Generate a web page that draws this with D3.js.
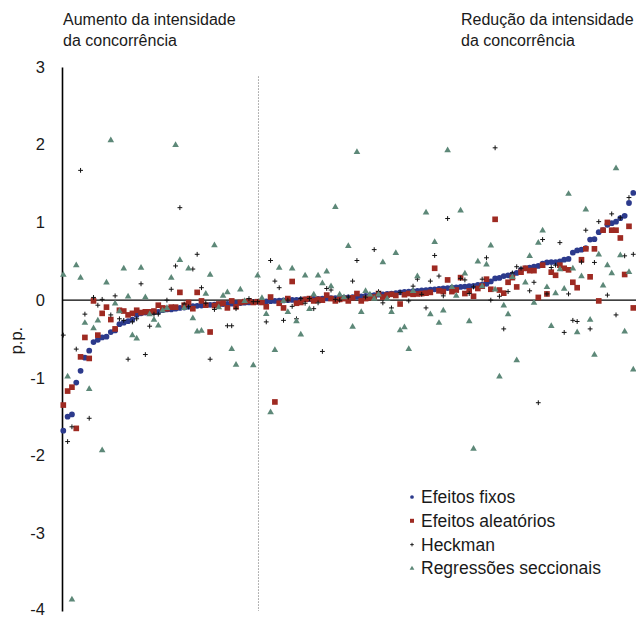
<!DOCTYPE html>
<html>
<head>
<meta charset="utf-8">
<script src="https://cdn.jsdelivr.net/npm/d3@7"></script>
<style>
  body { margin: 0; background: #fff; }
  svg { display: block; }
  text { font-family: "Liberation Sans", Arial, sans-serif; fill: #1a1a1a; }
</style>
</head>
<body>
<svg id="chart" width="636" height="617"></svg>
<script>
// Rank of each estimate, ordered by the fixed-effects value
const ranks = d3.range(1, 134);

// Estimated effect (p.p.) per rank, one array per estimator; null = not shown
const fixedEffects = [
  -1.68,-1.50,-1.47,-1.06,-0.91,-0.74,-0.65,-0.54,-0.51,-0.48,
  -0.47,-0.41,-0.39,-0.31,-0.29,-0.27,-0.25,-0.19,-0.17,-0.16,
  -0.16,-0.155,-0.15,-0.13,-0.12,-0.12,-0.11,-0.10,-0.095,-0.086,
  -0.077,-0.073,-0.069,-0.065,-0.06,-0.058,-0.055,-0.05,-0.048,-0.045,
  -0.04,-0.037,-0.033,-0.03,-0.027,-0.022,-0.02,-0.017,-0.013,-0.01,
  -0.007,-0.004,0.0,0.002,0.005,0.008,0.01,0.012,0.015,0.017,
  0.02,0.022,0.025,0.027,0.03,0.033,0.035,0.04,0.045,0.05,
  0.055,0.06,0.065,0.07,0.075,0.08,0.085,0.09,0.10,0.105,
  0.11,0.115,0.12,0.125,0.13,0.135,0.14,0.145,0.15,0.155,
  0.16,0.165,0.17,0.175,0.18,0.185,0.195,0.20,0.21,0.24,
  0.28,0.285,0.31,0.32,0.33,0.35,0.39,0.41,0.42,0.43,
  0.44,0.47,0.485,0.49,0.49,0.50,0.52,0.53,0.61,0.64,
  0.65,0.67,0.78,0.785,0.875,0.90,0.97,0.99,1.01,1.055,
  1.085,1.25,1.38
];

const randomEffects = [
  -1.35,-1.17,-1.12,-1.65,-0.73,-0.48,-0.75,-0.01,-0.45,-0.17,
  -0.09,-0.25,-0.37,-0.13,-0.14,-0.19,-0.17,-0.13,-0.16,-0.15,
  -0.15,-0.14,-0.065,-0.10,-0.11,-0.09,-0.09,0.10,-0.065,-0.03,
  -0.11,0.10,-0.01,-0.065,-0.41,-0.07,-0.05,-0.04,-0.10,-0.01,
  -0.085,-0.03,-0.02,-0.01,-0.03,-0.02,-0.03,-0.085,0.04,-1.31,
  -0.04,-0.10,0.02,0.24,-0.04,-0.03,0.01,0.02,-0.01,0.01,
  0.0,0.065,0.02,-0.01,0.01,0.02,-0.01,0.03,0.085,-0.01,
  0.02,0.03,0.04,0.085,0.04,0.065,0.075,0.06,-0.05,0.07,
  0.085,0.075,0.08,0.085,0.09,0.10,0.41,0.12,0.11,0.26,
  0.11,0.13,0.29,0.085,0.12,0.05,0.15,0.18,0.27,0.14,
  1.04,0.13,0.09,0.23,0.29,0.17,0.36,0.41,0.38,0.38,
  0.035,0.45,0.08,0.36,0.32,0.45,0.41,0.39,0.23,0.16,
  0.52,0.66,0.30,0.66,-0.01,0.90,1.00,0.90,0.90,0.80,
  0.33,0.95,-0.10
];

const heckman = [
  -0.45,-1.82,-1.63,-0.63,1.67,-0.18,-1.52,0.035,-0.065,0.01,
  null,-0.19,0.055,-0.24,-0.26,-0.76,-0.28,-0.24,0.21,-0.70,
  -0.335,-0.18,-0.18,null,0.0,0.14,0.44,1.19,-0.05,-0.085,
  0.40,0.59,0.16,-0.04,-0.76,-0.12,null,null,-0.33,-0.33,
  -0.11,null,null,0.02,-0.02,-0.02,null,-0.28,0.51,0.245,
  0.16,-0.26,0.0,-0.08,-0.24,0.02,-0.04,0.02,-0.11,-0.035,
  -0.66,0.15,0.13,0.01,0.0,null,0.04,0.245,0.51,null,
  0.04,null,0.65,0.11,-0.035,null,-0.10,null,0.10,null,
  -0.01,0.18,0.27,0.075,-0.10,0.245,0.575,0.31,0.055,1.05,
  null,null,0.28,0.26,0.085,0.17,null,0.27,0.545,0.0,
  1.96,0.05,-0.37,0.11,0.35,0.43,0.41,null,0.12,0.23,
  -1.32,0.78,0.08,0.42,0.45,0.74,-0.415,0.08,-0.26,-0.275,
  0.49,0.90,-0.37,0.485,1.01,null,0.065,1.11,-0.19,1.06,
  0.57,1.32,0.59
];

const crossSection = [
  0.32,-0.99,-3.86,0.44,0.28,-0.30,-1.15,-0.37,-0.27,-1.94,
  0.22,2.05,-0.05,-0.15,0.40,0.04,-0.46,-0.50,0.41,0.03,
  -0.19,-0.26,-0.335,-0.14,-0.11,0.28,1.99,0.51,-0.11,0.40,
  -0.24,-0.41,-0.40,0.075,0.32,0.70,-0.10,0.05,0.095,-0.635,
  -0.84,0.13,-0.02,null,-0.845,0.31,0.02,-0.185,-1.45,-0.65,
  0.41,-0.02,-0.16,0.40,-0.28,-0.45,0.31,-0.12,0.065,0.31,
  0.21,0.36,0.17,1.19,0.065,0.03,0.69,-0.35,1.90,-0.16,
  0.11,0.065,0.01,0.065,0.48,0.01,-0.16,0.60,-0.395,-0.355,
  -0.635,0.11,0.30,null,1.12,-0.19,0.74,-0.30,-0.14,1.92,
  0.16,0.05,1.145,0.335,-0.28,-1.92,0.49,0.17,0.45,0.695,
  0.13,-0.99,-0.075,-0.19,0.29,-0.78,null,0.22,0.56,-0.04,
  0.73,0.89,0.16,-0.34,0.08,0.39,0.14,1.36,0.40,-0.42,
  0.30,1.16,-0.26,-0.71,0.58,0.18,0.44,0.34,1.69,0.57,
  -0.41,0.355,-0.90
];

const seriesNames = ["Efeitos fixos", "Efeitos aleatórios", "Heckman", "Regressões seccionais"];
const yTicks = [3, 2, 1, 0, -1, -2, -3, -4];
const dividerRank = 46.2;   // boundary between the two regimes
const leftNote = ["Aumento da intensidade", "da concorrência"];
const rightNote = ["Redução da intensidade", "da concorrência"];
const yTitle = "p.p.";

// ---- layout ----
const svg = d3.select("#chart");
const plot = { left: 62, right: 636, top: 67, bottom: 611 };

const x = d3.scaleLinear().domain([1, 133]).range([63.3, 633.3]);
const y = d3.scaleLinear().domain([-4, 3]).range([plot.bottom, plot.top]);

const colors = {
  fixed: "#2c3a8c",
  random: "#9e2a22",
  heck: "#111111",
  cross: "#5d8878"
};

// dotted divider
svg.append("line")
  .attr("x1", x(dividerRank)).attr("x2", x(dividerRank))
  .attr("y1", y(2.88)).attr("y2", y(-4))
  .attr("stroke", "#9a9a9a").attr("stroke-width", 1)
  .attr("stroke-dasharray", "1.5,1.5");

// zero line
svg.append("line")
  .attr("x1", plot.left).attr("x2", plot.right)
  .attr("y1", y(0)).attr("y2", y(0))
  .attr("stroke", "#000").attr("stroke-width", 1.2);

// y axis (plain hyphen for negatives)
const yAxis = d3.axisLeft(y).tickValues(yTicks).tickSize(0).tickSizeOuter(0).tickPadding(17)
  .tickFormat(d => String(d));
const gy = svg.append("g").attr("transform", `translate(${plot.left},0)`).call(yAxis);
gy.select(".domain").attr("stroke", "#000").attr("stroke-width", 1.6);
gy.selectAll("text")
  .style("font-family", '"Liberation Sans", Arial, sans-serif')
  .style("font-size", "16.5px").attr("fill", "#1a1a1a");
// keep the lowest label inside the frame
gy.selectAll(".tick").filter(d => d === -4).select("text").attr("dy", "0.22em");

svg.append("text")
  .attr("transform", `translate(22,${y(-0.52)}) rotate(-90)`)
  .attr("text-anchor", "middle")
  .style("font-size", "16.5px")
  .text(yTitle);

// notes
function note(lines, x0) {
  const t = svg.append("text").attr("x", x0).attr("y", 25).style("font-size", "16px");
  lines.forEach((s, i) => t.append("tspan").attr("x", x0).attr("dy", i ? 21 : 0).text(s));
}
note(leftNote, 63);
note(rightNote, 461);

// points
const rows = ranks.map((r, i) => ({
  r, fe: fixedEffects[i], re: randomEffects[i], hk: heckman[i], cs: crossSection[i]
}));

const circleSym = d3.symbol().type(d3.symbolCircle).size(26);
const squareSym = d3.symbol().type(d3.symbolSquare).size(32);
const triSym = d3.symbol().type(d3.symbolTriangle).size(19);
const plusPath = "M-2.4,0H2.4M0,-2.4V2.4";

svg.append("g").selectAll("path").data(rows.filter(d => d.fe != null)).join("path")
  .attr("d", circleSym)
  .attr("transform", d => `translate(${x(d.r)},${y(d.fe)})`)
  .attr("fill", colors.fixed);

svg.append("g").selectAll("path").data(rows.filter(d => d.re != null)).join("path")
  .attr("d", squareSym)
  .attr("transform", d => `translate(${x(d.r)},${y(d.re)})`)
  .attr("fill", colors.random);

svg.append("g").selectAll("path").data(rows.filter(d => d.hk != null)).join("path")
  .attr("d", plusPath)
  .attr("transform", d => `translate(${x(d.r)},${y(d.hk)})`)
  .attr("stroke", colors.heck).attr("stroke-width", 1).attr("fill", "none");

svg.append("g").selectAll("path").data(rows.filter(d => d.cs != null)).join("path")
  .attr("d", triSym)
  .attr("transform", d => `translate(${x(d.r)},${y(d.cs) - 0.5})`)
  .attr("fill", colors.cross);

// legend
const legend = svg.append("g").attr("transform", "translate(412,497)");
const legendSyms = [
  g => g.append("path").attr("d", d3.symbol().type(d3.symbolCircle).size(11)).attr("fill", colors.fixed),
  g => g.append("path").attr("d", d3.symbol().type(d3.symbolSquare).size(16)).attr("fill", colors.random),
  g => g.append("path").attr("d", "M-1.8,0H1.8M0,-1.8V1.8").attr("stroke", colors.heck).attr("stroke-width", 0.9),
  g => g.append("path").attr("d", d3.symbol().type(d3.symbolTriangle).size(10)).attr("fill", colors.cross)
];
seriesNames.forEach((name, i) => {
  const g = legend.append("g").attr("transform", `translate(0,${i * 23.8})`);
  legendSyms[i](g);
  g.append("text").attr("x", 9).attr("y", 6).style("font-size", "17.5px").text(name);
});
</script>
</body>
</html>
